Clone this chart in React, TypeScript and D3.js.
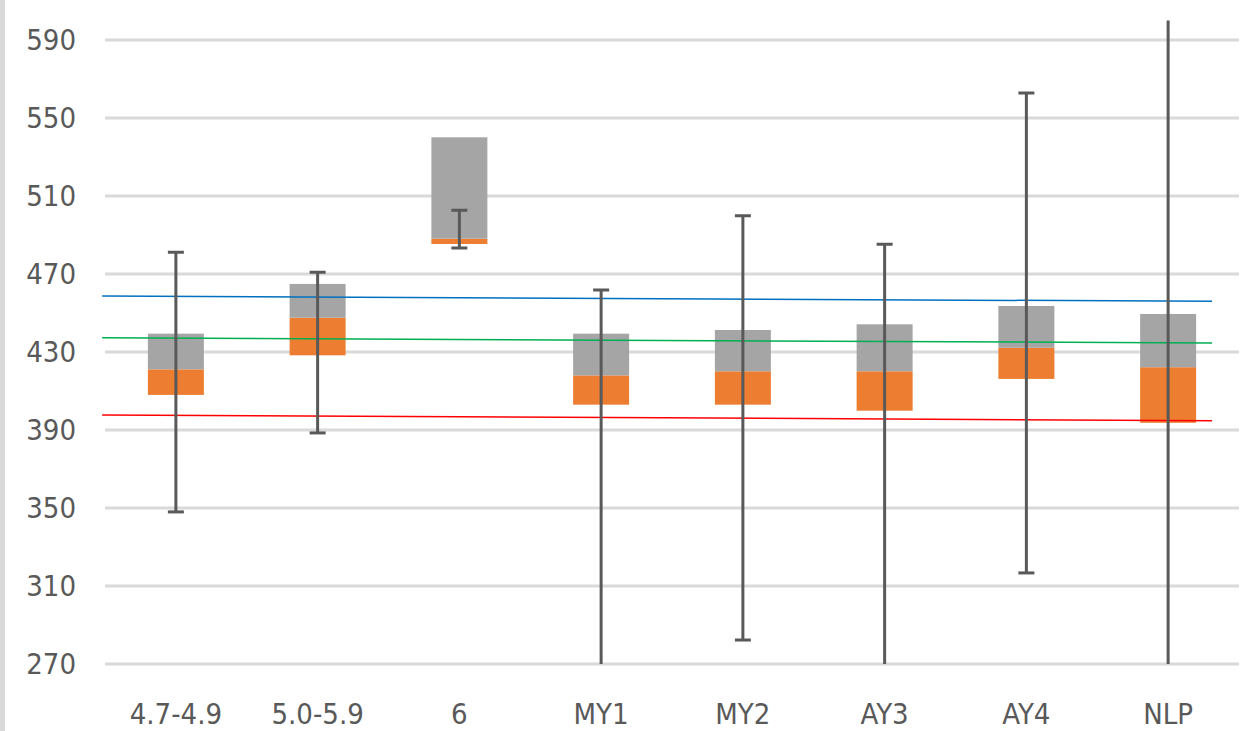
import React from "react";
import * as d3 from "d3";

const categories = ["4.7-4.9", "5.0-5.9", "6", "MY1", "MY2", "AY3", "AY4", "NLP"];
const q1 = [408, 428.3, 485.4, 403, 403, 399.9, 416.2, 393.7];
const median = [421.1, 447.6, 488.1, 418, 420.1, 420.1, 432.2, 422.2];
const q3 = [439.4, 464.9, 540.1, 439.4, 441.3, 444.2, 453.6, 449.5];
const whiskerHigh = [481.1, 470.9, 502.7, 461.8, 499.9, 485.2, 562.8, 640];
const whiskerLow = [348, 388.5, 483.3, 250, 282.3, 250, 316.7, 250];
const yTicks = [270, 310, 350, 390, 430, 470, 510, 550, 590];

// reference lines: value at start and end (in category-index units)
const refLineNames = ["blue", "green", "red"];
const refLineStart = [458.7, 437.3, 397.7];
const refLineEnd = [456.0, 434.6, 394.8];
const refLineColors = ["#0070C0", "#00B050", "#FF0000"];
const refLineFrom = -0.52;
const refLineTo = 7.31;

const W = 1254;
const H = 731;
const left = 105;
const right = 1239;
const top = 20.5;
const bottom = 664;

export default function App() {
  const x = d3.scaleBand<string>().domain(categories).range([left, right]).paddingInner(0).paddingOuter(0);
  const y = d3.scaleLinear().domain([270, 600]).range([bottom, top]);
  const step = x.step();
  const barW = step * 0.395;
  const idx = d3.scaleLinear().domain([0, 1]).range([left + step / 2, left + step * 1.5]);
  const font = "'DejaVu Sans Condensed', 'DejaVu Sans', sans-serif";
  const fs = 29;

  return (
    <svg width={W} height={H} style={{ position: "absolute", left: 0, top: 0, background: "#fff" }}>
      <defs>
        <clipPath id="plot">
          <rect x={left - 10} y={top} width={right - left + 20} height={bottom - top} />
        </clipPath>
      </defs>
      <rect x={0} y={0} width={W} height={H} fill="#ffffff" />
      <rect x={0} y={0} width={5} height={H} fill="#d9d9d9" />
      {yTicks.map((t) => (
        <g key={t}>
          <line x1={left} x2={right} y1={y(t)} y2={y(t)} stroke="#d9d9d9" strokeWidth={3} />
          <text x={76} y={y(t)} dy="0.36em" textAnchor="end" fontFamily={font} fontSize={fs} fill="#595959">
            {t}
          </text>
        </g>
      ))}
      <g clipPath="url(#plot)">
        {categories.map((c, i) => {
          const cx = (x(c) as number) + step / 2;
          return (
            <g key={c}>
              <rect x={cx - barW / 2} y={y(median[i])} width={barW} height={y(q1[i]) - y(median[i])} fill="#ED7D31" />
              <rect x={cx - barW / 2} y={y(q3[i])} width={barW} height={y(median[i]) - y(q3[i])} fill="#A5A5A5" />
            </g>
          );
        })}
        {refLineNames.map((n, k) => (
          <line
            key={n}
            x1={idx(refLineFrom)}
            x2={idx(refLineTo)}
            y1={y(refLineStart[k])}
            y2={y(refLineEnd[k])}
            stroke={refLineColors[k]}
            strokeWidth={1.5}
          />
        ))}
        {categories.map((c, i) => {
          const cx = (x(c) as number) + step / 2;
          return (
            <g key={c + "-e"} stroke="#595959" strokeWidth={3}>
              <line x1={cx} x2={cx} y1={y(whiskerLow[i])} y2={y(whiskerHigh[i])} />
              <line x1={cx - 8} x2={cx + 8} y1={y(whiskerLow[i])} y2={y(whiskerLow[i])} />
              <line x1={cx - 8} x2={cx + 8} y1={y(whiskerHigh[i])} y2={y(whiskerHigh[i])} />
            </g>
          );
        })}
      </g>
      {categories.map((c) => (
        <text key={c + "-l"} x={(x(c) as number) + step / 2} y={724} textAnchor="middle" fontFamily={font} fontSize={fs} fill="#595959">
          {c}
        </text>
      ))}
    </svg>
  );
}
